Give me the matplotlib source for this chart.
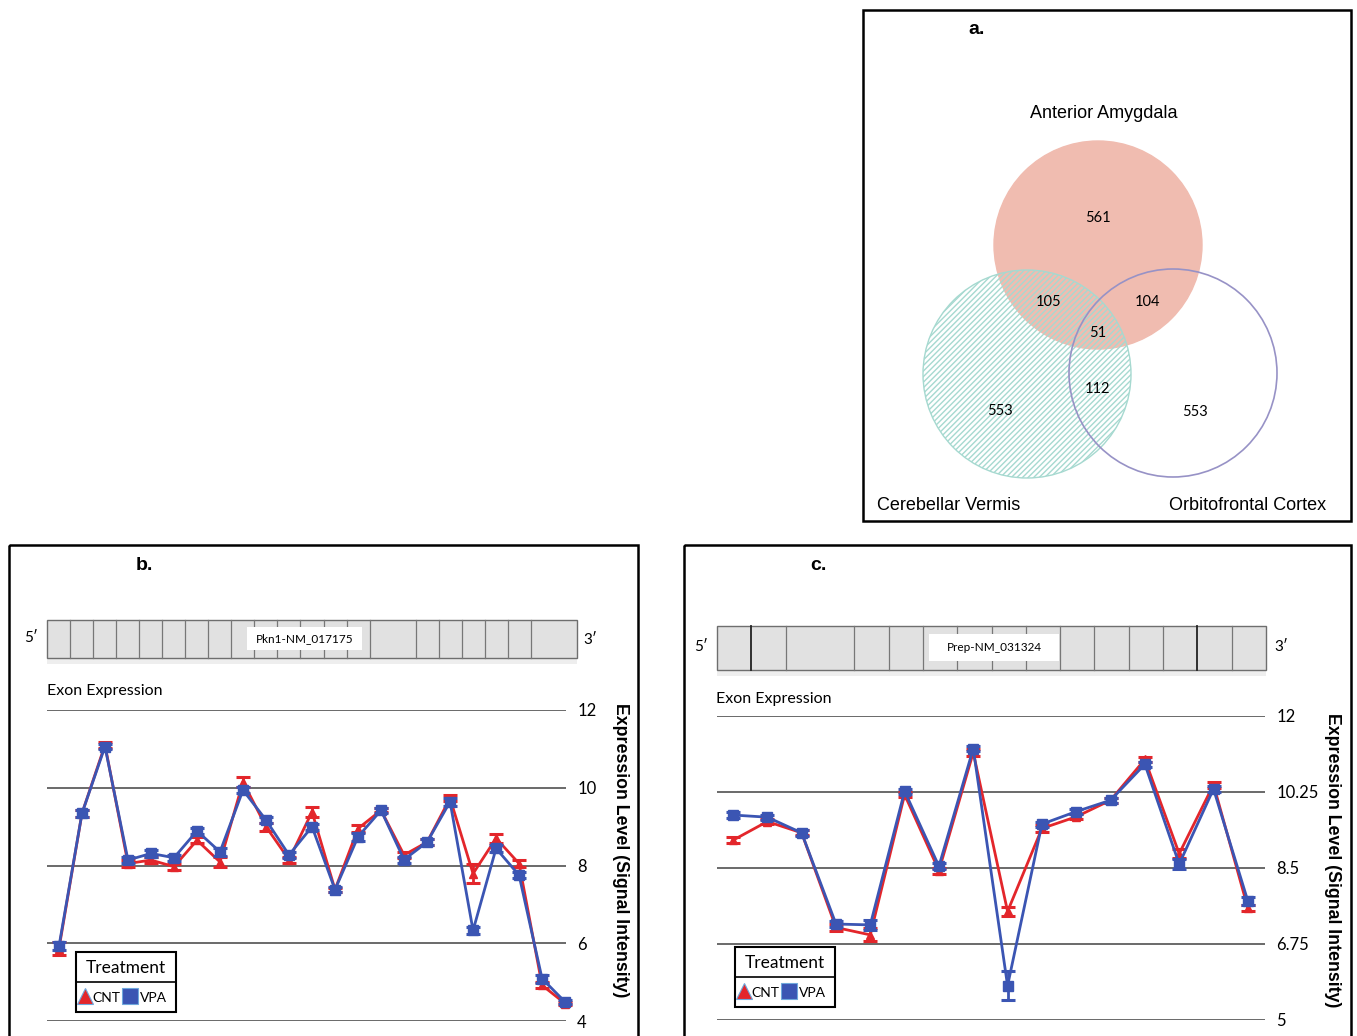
import numpy as np
import matplotlib
matplotlib.use("Agg")
import matplotlib.pyplot as plt
from matplotlib.patches import Rectangle, Circle

# ---- data ----
venn_names = ["Anterior Amygdala", "Cerebellar Vermis", "Orbitofrontal Cortex"]
venn_counts = {"A": 561, "AC": 105, "AO": 104, "ACO": 51, "CO": 112, "C": 553, "O": 553}

b_gene = "Pkn1-NM_017175"
b_exon_widths = [1] * 14 + [2] + [1] * 5 + [2]
b_ticks = [4, 6, 8, 10, 12]
b_cnt = [5.86, 9.34, 11.1, 8.05, 8.14, 7.97, 8.65, 8.09, 10.15, 9.0, 8.15, 9.38,
         7.38, 8.95, 9.42, 8.27, 8.6, 9.73, 7.79, 8.7, 8.05, 4.92, 4.45]
b_vpa = [5.92, 9.34, 11.06, 8.14, 8.31, 8.2, 8.89, 8.35, 9.94, 9.17, 8.27, 9.0,
         7.38, 8.74, 9.42, 8.15, 8.6, 9.64, 6.33, 8.44, 7.75, 5.09, 4.49]
b_cnt_err = [0.17, 0.08, 0.08, 0.08, 0.08, 0.08, 0.08, 0.12, 0.12, 0.1, 0.08, 0.12,
             0.05, 0.08, 0.05, 0.08, 0.08, 0.08, 0.25, 0.12, 0.1, 0.08, 0.05]
b_vpa_err = [0.1, 0.08, 0.06, 0.08, 0.08, 0.08, 0.08, 0.1, 0.08, 0.08, 0.08, 0.08,
             0.06, 0.1, 0.06, 0.08, 0.08, 0.1, 0.1, 0.08, 0.08, 0.1, 0.06]

c_gene = "Prep-NM_031324"
c_exon_widths = [1, 1, 2] + [1] * 12
c_ticks = [5, 6.75, 8.5, 10.25, 12]
c_cnt = [9.14, 9.57, 9.31, 7.13, 6.96, 10.19, 8.44, 11.16, 7.5, 9.41, 9.68, 10.06,
         11.0, 8.83, 10.42, 7.58]
c_vpa = [9.72, 9.67, 9.31, 7.21, 7.19, 10.27, 8.54, 11.25, 5.79, 9.51, 9.8, 10.06,
         10.89, 8.59, 10.32, 7.74]
c_cnt_err = [0.07, 0.06, 0.06, 0.07, 0.15, 0.06, 0.07, 0.07, 0.1, 0.07, 0.06, 0.06,
             0.06, 0.1, 0.07, 0.07]
c_vpa_err = [0.06, 0.06, 0.07, 0.07, 0.12, 0.06, 0.07, 0.06, 0.33, 0.06, 0.06, 0.06,
             0.06, 0.12, 0.06, 0.1]

RED = "#e3262b"
BLUE = "#3b55b3"
W, H = 1357, 1036
ARIAL = "Liberation Sans"
CAL = "Lato"

fig = plt.figure(figsize=(W / 100, H / 100), dpi=100)
bg = fig.add_axes([0, 0, 1, 1])
bg.set_xlim(0, W)
bg.set_ylim(H, 0)
bg.axis("off")


def px_axes(l, t, r, b):
    a = fig.add_axes([l / W, 1 - b / H, (r - l) / W, (b - t) / H])
    a.patch.set_visible(False)
    return a


# panel frames
for (l, t, r, b) in [(863, 10, 1351, 521), (9, 545, 638, 1040), (684, 545, 1351, 1040)]:
    bg.add_patch(Rectangle((l, t), r - l, b - t, fill=False, ec="black", lw=1.8, clip_on=False))

# ---- panel a : venn ----
bg.text(977, 30, "a.", fontsize=14, fontweight="bold", family=ARIAL, ha="center", va="center")
bg.add_patch(Circle((1098, 245), 104, fc="#f0bcb0", ec="#f0bcb0", lw=1, zorder=1))
bg.add_patch(Circle((1027, 374), 104, fc="none", ec="#a6d9d0", hatch="//////", lw=1, zorder=2))
bg.add_patch(Circle((1173, 373), 104, fc="none", ec="#9792c6", lw=1.2, zorder=3))
bg.text(1104, 113, venn_names[0], fontsize=13, family=ARIAL, ha="center", va="center")
bg.text(949, 505, venn_names[1], fontsize=13, family=ARIAL, ha="center", va="center")
bg.text(1248, 505, venn_names[2], fontsize=13, family=ARIAL, ha="center", va="center")
spots = {"A": (1098, 218), "AC": (1049, 302), "AO": (1148, 302), "ACO": (1098, 333),
         "CO": (1098, 389), "C": (1000, 411), "O": (1195, 412)}
for k, (x, y) in spots.items():
    bg.text(x, y, str(venn_counts[k]), fontsize=10.5, family=CAL, ha="center", va="center", zorder=5)


def exon_bar(x0, x1, y0, y1, widths, gene, box, p5, p3, thick=()):
    bg.add_patch(Rectangle((x0, y1), x1 - x0, 6, fc="#eeeeee", ec="none"))
    bg.add_patch(Rectangle((x0, y0), x1 - x0, y1 - y0, fc="#e1e1e1", ec="#6e6e6e", lw=1))
    edges = np.cumsum([0] + widths) / sum(widths)
    for i, e in enumerate(edges[1:-1], start=1):
        bg.plot([x0 + e * (x1 - x0)] * 2, [y0, y1], color="#222222" if i in thick else "#777777",
                lw=1.3 if i in thick else 0.9)
    bx0, by0, bx1, by1 = box
    bg.add_patch(Rectangle((bx0, by0), bx1 - bx0, by1 - by0, fc="white", ec="none", zorder=4))
    bg.text((bx0 + bx1) / 2, (by0 + by1) / 2, gene, fontsize=8.5, family=CAL,
            ha="center", va="center", zorder=5)
    bg.text(p5[0], p5[1], "5\u2032", fontsize=11, family=CAL, ha="center", va="center")
    bg.text(p3[0], p3[1], "3\u2032", fontsize=11, family=CAL, ha="center", va="center")


def legend_box(l, t):
    bg.add_patch(Rectangle((l, t), 100, 60, fill=False, ec="black", lw=1.5))
    bg.plot([l, l + 100], [t + 30, t + 30], color="black", lw=1.2)
    bg.text(l + 50, t + 16, "Treatment", fontsize=12.5, family=CAL, ha="center", va="center")
    bg.plot(l + 9, t + 44, marker="^", ms=11, color=RED, mec="#6fa8dc", mew=0.8)
    bg.text(l + 16, t + 46, "CNT", fontsize=10, family=CAL, ha="left", va="center")
    bg.plot(l + 54, t + 44, marker="s", ms=11, color=BLUE, mec="#6fa8dc", mew=0.8)
    bg.text(l + 64, t + 46, "VPA", fontsize=10, family=CAL, ha="left", va="center")


def line_panel(ax, cnt, cnt_err, vpa, vpa_err, ticks, xlim, ylabel_x, fig_ylab):
    x = np.arange(len(cnt))
    for t in ticks:
        ax.axhline(t, color="#5e5e5e", lw=1.3, zorder=0)
    ax.errorbar(x, cnt, yerr=cnt_err, color=RED, marker="^", ms=6, lw=2, capsize=5,
                capthick=2.2, elinewidth=2, clip_on=False, zorder=2)
    ax.errorbar(x, vpa, yerr=vpa_err, color=BLUE, marker="s", ms=6.5, lw=2, capsize=5,
                capthick=2.2, elinewidth=2, clip_on=False, zorder=3)
    ax.set_xlim(*xlim)
    ax.set_ylim(ticks[0], ticks[-1])
    ax.set_xticks([])
    ax.set_yticks(ticks)
    ax.set_yticklabels([f"{t:g}" for t in ticks], family=CAL, fontsize=12)
    ax.yaxis.tick_right()
    ax.tick_params(axis="y", length=0, pad=8)
    for s in ax.spines.values():
        s.set_visible(False)
    bg.text(ylabel_x, fig_ylab, "Expression Level (Signal Intensity)", rotation=-90,
            fontsize=12.8, fontweight="bold", family=ARIAL, ha="center", va="center")


# ---- panel b ----
bg.text(144, 565, "b.", fontsize=14, fontweight="bold", family=ARIAL, ha="center", va="center")
exon_bar(47, 577, 620, 658, b_exon_widths, b_gene, (247, 627, 362, 650), (31, 638), (590, 640))
bg.text(47, 691, "Exon Expression", fontsize=11.5, family=CAL, ha="left", va="center")
axb = px_axes(47, 710, 566, 1021)
line_panel(axb, b_cnt, b_cnt_err, b_vpa, b_vpa_err, b_ticks, (-0.52, 22.04), 620, 850)
legend_box(76, 952)

# ---- panel c ----
bg.text(818, 566, "c.", fontsize=14, fontweight="bold", family=ARIAL, ha="center", va="center")
exon_bar(717, 1266, 626, 670, c_exon_widths, c_gene, (929, 634, 1059, 661), (701, 647), (1281, 647),
         thick=(1, 13))
bg.text(716, 699, "Exon Expression", fontsize=11.5, family=CAL, ha="left", va="center")
axc = px_axes(717, 716, 1265, 1020)
line_panel(axc, c_cnt, c_cnt_err, c_vpa, c_vpa_err, c_ticks, (-0.466, 15.5), 1333, 860)
legend_box(735, 947)

fig.savefig("out.png", dpi=100)
